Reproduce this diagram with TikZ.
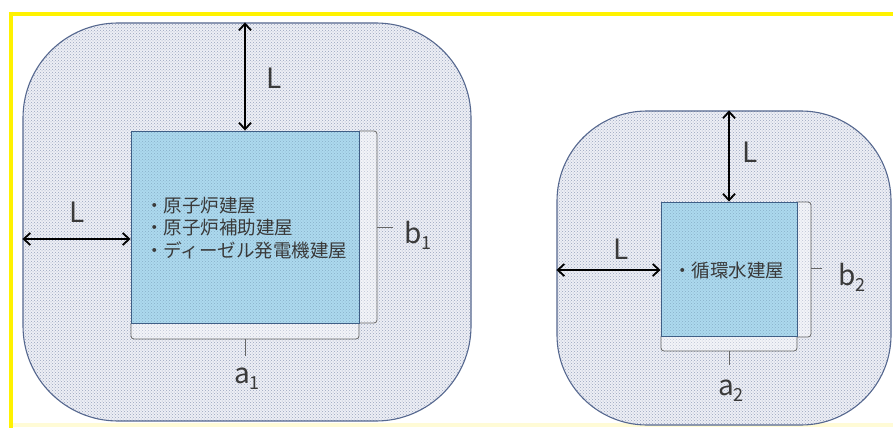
\documentclass[tikz,border=0pt]{standalone}
\usepackage{fontspec}
\setmainfont{Noto Sans CJK JP}
\usetikzlibrary{arrows.meta,patterns}
\definecolor{yframe}{HTML}{FFF200}
\definecolor{ypale}{HTML}{FFFBD6}
\definecolor{outerfill}{HTML}{EDEFF5}
\definecolor{outerdot}{HTML}{9AA4BE}
\definecolor{outerline}{HTML}{56688F}
\definecolor{innerfill}{HTML}{ACD9EE}
\definecolor{innerdot}{HTML}{88AFC8}
\definecolor{innerline}{HTML}{3F5F86}
\definecolor{bracecol}{HTML}{666666}
\definecolor{txt}{HTML}{3A3A3A}
\tikzset{
  zone/.style={draw=outerline, line width=1.1pt, rectangle, inner sep=0pt,
    preaction={fill=outerfill}, pattern=crosshatch dots, pattern color=outerdot},
  bldg/.style={draw=innerline, line width=0.9pt, rectangle, inner sep=0pt,
    preaction={fill=innerfill}, pattern=crosshatch dots, pattern color=innerdot},
  dimarrow/.style={line width=1.8pt, black, {Straight Barb[length=6.5pt,width=12pt]}-{Straight Barb[length=6.5pt,width=12pt]}},
  braceline/.style={draw=bracecol, line width=0.8pt, rounded corners=3pt},
  bracefill/.style={fill=white, fill opacity=0.35},
  lbl/.style={inner sep=0pt, text=txt, font=\fontsize{28}{28}\selectfont},
  jtxt/.style={inner sep=0pt, text=txt, align=left, font=\fontsize{18.5}{22.5}\selectfont},
}
\newcommand{\subs}[1]{\raisebox{-0.22em}{\fontsize{18}{18}\selectfont #1}}
\begin{document}
\begin{tikzpicture}[x=1pt,y=-1pt]
\useasboundingbox (0,0) rectangle (893,428);
\fill[white] (0,0) rectangle (893,428);
% frame
\draw[ypale, line width=4pt] (11,425) -- (893,425);
\draw[yframe, line width=4.5pt] (8.75,14) -- (893,14);
\draw[yframe, line width=4.5pt] (11,11.75) -- (11,428);
% zones
\node[zone, minimum width=448pt, minimum height=398pt, rounded corners=95pt] (outer1) at (247,222) {};
\node[zone, minimum width=334pt, minimum height=314pt, rounded corners=90pt] (outer2) at (724,268) {};
% braces 1
\fill[bracefill] (359,131) rectangle (377,323);
\fill[bracefill] (131,323) rectangle (359,339);
\draw[braceline] (359,131) -- (377,131) -- (377,323) -- (359,323);
\draw[braceline] (131,323) -- (131,339) -- (359,339) -- (359,323);
% braces 2
\fill[bracefill] (797,202) rectangle (811,337);
\fill[bracefill] (661,336) rectangle (797,351);
\draw[braceline] (797,202) -- (811,202) -- (811,337) -- (797,337);
\draw[braceline] (661,336) -- (661,351) -- (797,351) -- (797,336);
% buildings
\node[bldg, minimum width=228pt, minimum height=192pt] (inner1) at (245,227) {};
\node[bldg, minimum width=136pt, minimum height=134pt] (inner2) at (729,269) {};
% brace ticks
\coordinate (bt1) at (377,227);
\coordinate (at1) at (245,339);
\coordinate (bt2) at (811,268);
\coordinate (at2) at (729,351);
\draw[braceline] (bt1) -- ++(16,0);
\draw[braceline] (at1) -- ++(0,17);
\draw[braceline] (bt2) -- ++(11,0);
\draw[braceline] (at2) -- ++(0,14);
% texts
\node[jtxt, anchor=west] (t1) at (145,228) {・原子炉建屋\\・原子炉補助建屋\\・ディーゼル発電機建屋};
\node[jtxt, anchor=west] (t2) at (673,270) {・循環水建屋};
% dimension arrows
\coordinate (ya1) at (0,239);
\coordinate (ya2) at (0,270);
\draw[dimarrow] (inner1.north |- outer1.north) -- (inner1.north);
\draw[dimarrow] (outer1.west |- ya1) -- (inner1.west |- ya1);
\draw[dimarrow] (inner2.north |- outer2.north) -- (inner2.north);
\draw[dimarrow] (outer2.west |- ya2) -- (inner2.west |- ya2);
% labels
\node[lbl] (L1) at (274,78) {L};
\node[lbl] (L2) at (77,212) {L};
\node[lbl] (L3) at (750,152) {L};
\node[lbl] (L4) at (621,249) {L};
\node[lbl, anchor=base west] (b1) at (404,243) {b\subs{1}};
\node[lbl, anchor=base west] (a1) at (234,383) {a\subs{1}};
\node[lbl, anchor=base west] (b2) at (838,285) {b\subs{2}};
\node[lbl, anchor=base west] (a2) at (718,395) {a\subs{2}};
\end{tikzpicture}
\end{document}
